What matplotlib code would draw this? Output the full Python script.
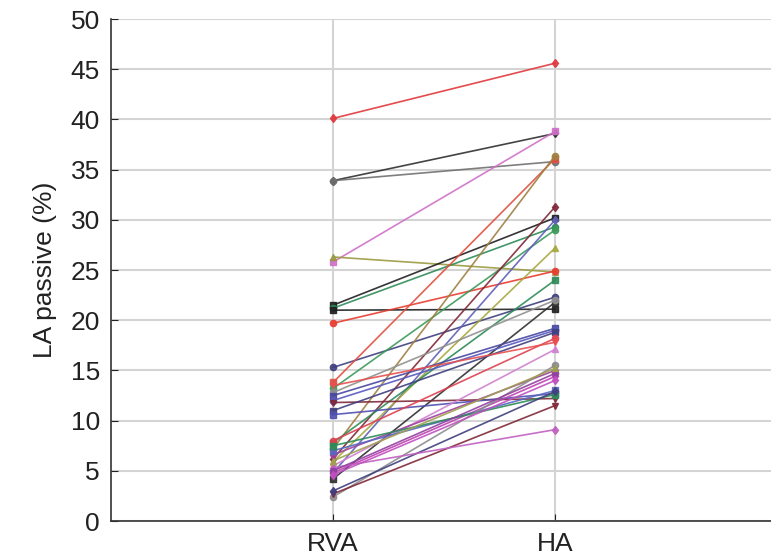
import matplotlib.pyplot as plt

plt.rcParams['font.family'] = ['Liberation Sans', 'DejaVu Sans']

groups = ['RVA', 'HA']

# paired LA passive values per patient (RVA, HA)
rva = [40.1, 33.9, 33.9, 25.8, 26.3, 21.5, 21.2, 21.0, 19.7, 15.3,
       13.8, 13.2, 7.2, 6.2, 4.8, 5.9, 4.2, 7.8, 12.8, 12.5,
       12.0, 11.8, 11.0, 10.6, 8.0, 13.5, 5.5, 6.6, 4.8, 7.0,
       7.5, 2.4, 2.7, 3.0, 5.3, 5.0, 4.6, 6.0]
ha = [45.6, 38.6, 35.8, 38.8, 24.8, 30.2, 29.3, 21.1, 24.9, 22.3,
      36.1, 29.0, 36.4, 31.3, 30.0, 27.2, 21.8, 24.0, 22.0, 19.2,
      19.0, 12.2, 18.8, 12.7, 18.2, 17.8, 17.1, 15.0, 14.4, 13.0,
      12.6, 15.5, 11.5, 12.9, 9.1, 14.7, 14.0, 15.2]
colors = ['#e0383c', '#303030', '#707070', '#d070c8', '#9a9a40', '#202020', '#2e8b57', '#202020', '#e83c30', '#404080',
          '#e05040', '#3c9a5a', '#a08040', '#802838', '#6060b8', '#a8a840', '#303030', '#2e8b57', '#909090', '#4848a0',
          '#5858c0', '#802838', '#404080', '#5050b0', '#e04050', '#e85050', '#d080d0', '#a040a0', '#c040b0', '#5868c0',
          '#2e8b57', '#8c8c8c', '#802838', '#404080', '#c060c0', '#9040a0', '#c050c0', '#a0a050']
markers = ['d', 'd', 'o', 's', '^', 's', 'o', 's', 'o', 'o',
           's', 'o', 'o', 'd', 'd', '^', 's', 's', 'o', 's',
           'o', 'v', 's', 's', 'o', 'v', '^', 'd', 'd', 's',
           's', 'o', 'v', 'd', 'd', 'o', 'd', '^']

fig = plt.figure(figsize=(7.71, 5.58), dpi=100)
ax = fig.add_axes([0.144, 0.0663, 0.864, 0.8996])

for a, b, c, m in zip(rva, ha, colors, markers):
    ax.plot([1, 2], [a, b], color=c, lw=1.2, marker=m, ms=4.5,
            mfc=c, mec=c, alpha=0.9)

ax.set_xlim(0, 3)
ax.set_ylim(0, 50)
ax.set_yticks(range(0, 51, 5))
ax.set_xticks([1, 2])
ax.set_xticklabels(groups)
ax.grid(True, color='#d4d4d4', lw=1.5)
ax.set_axisbelow(True)
for s in ['top', 'right']:
    ax.spines[s].set_visible(False)
for s in ['left', 'bottom']:
    ax.spines[s].set_color('#333333')
    ax.spines[s].set_linewidth(1.2)
ax.tick_params(direction='in', length=5, labelsize=19, colors='#222222', pad=8)
ax.set_ylabel('LA passive (%)', fontsize=19, color='#222222', labelpad=10)

fig.savefig('out.png', dpi=100)
